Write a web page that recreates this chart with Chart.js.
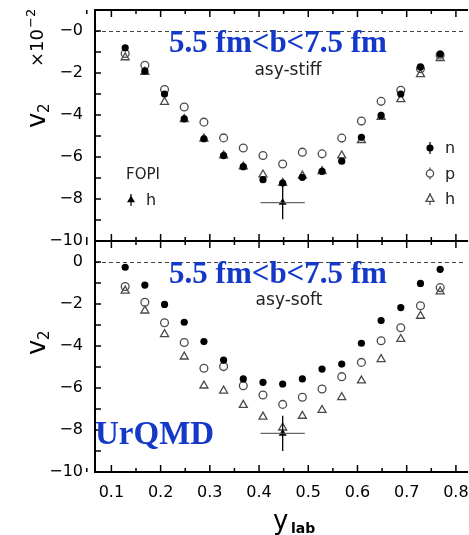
<!DOCTYPE html>
<html>
<head>
<meta charset="utf-8">
<script src="https://cdn.jsdelivr.net/npm/chart.js@4.4.1/dist/chart.umd.min.js"></script>
<style>
  html, body { margin: 0; padding: 0; background: #fff; overflow: hidden; }
  #v2Chart { display: block; }
</style>
</head>
<body>
<canvas id="v2Chart" width="469" height="535"></canvas>
<script>
// rapidity bins (y_lab)
const yLab = [0.128, 0.168, 0.208, 0.248, 0.288, 0.328, 0.368, 0.408, 0.448,
              0.488, 0.528, 0.568, 0.608, 0.648, 0.688, 0.728, 0.768];

// v2 (x10^-2), asy-stiff
const stiffN = [-0.80, -1.90, -3.00, -4.18, -5.13, -5.93, -6.46, -7.08, -7.24,
                -6.97, -6.68, -6.20, -5.06, -4.02, -3.00, -1.71, -1.10];
const stiffP = [-1.07, -1.63, -2.79, -3.62, -4.34, -5.09, -5.57, -5.93, -6.33,
                -5.77, -5.85, -5.10, -4.29, -3.35, -2.82, -1.80, -1.15];
const stiffH = [-1.26, -1.95, -3.38, -4.20, -5.13, -5.93, -6.46, -6.84, -7.24,
                -6.89, -6.68, -5.93, -5.20, -4.10, -3.25, -2.06, -1.30];

// v2 (x10^-2), asy-soft
const softN = [-0.25, -1.10, -2.02, -2.87, -3.79, -4.67, -5.57, -5.73, -5.81,
               -5.57, -5.10, -4.86, -3.87, -2.79, -2.17, -1.02, -0.35];
const softP = [-1.17, -1.92, -2.89, -3.83, -5.06, -4.98, -5.89, -6.33, -6.78,
               -6.44, -6.05, -5.46, -4.78, -3.75, -3.13, -2.08, -1.22];
const softH = [-1.37, -2.32, -3.44, -4.51, -5.89, -6.13, -6.81, -7.37, -7.89,
               -7.33, -7.05, -6.44, -5.65, -4.63, -3.67, -2.57, -1.41];

// FOPI h data point (same in both panels)
const fopiX = [0.448];
const fopiStiff = [-8.17];
const fopiSoft = [-8.16];
const fopiXErr = [0.045];
const fopiStiffErr = [0.80];
const fopiSoftErr = [0.84];

// axis ticks
const xTicks = [0.1, 0.2, 0.3, 0.4, 0.5, 0.6, 0.7, 0.8];
const xTickLabels = ['0.1', '0.2', '0.3', '0.4', '0.5', '0.6', '0.7', '0.8'];
const yTicks = [0, -2, -4, -6, -8, -10];
const yTopLabels = ['\u22120', '\u22122', '\u22124', '\u22126', '\u22128', '\u221210'];
const yBotLabels = ['0', '\u22122', '\u22124', '\u22126', '\u22128', '\u221210'];

const toPts = (xs, ys) => xs.map((x, i) => ({ x: x, y: ys[i] }));

const OPEN = 'rgba(0,0,0,0)';
const GREY = '#4a4a4a';
const BLUE = '#1438c8';

function series(label, xs, ys, axis, style) {
  return Object.assign({ label: label, data: toPts(xs, ys), yAxisID: axis, showLine: false }, style);
}
const nStyle = { pointStyle: 'circle', pointRadius: 3.6, backgroundColor: '#000', borderColor: '#000', borderWidth: 0 };
const pStyle = { pointStyle: 'circle', pointRadius: 3.9, backgroundColor: OPEN, borderColor: GREY, borderWidth: 1.3 };
const hStyle = { pointStyle: 'triangle', pointRadius: 4.6, backgroundColor: OPEN, borderColor: GREY, borderWidth: 1.3 };
const fStyle = { pointStyle: 'triangle', pointRadius: 4.6, backgroundColor: '#000', borderColor: '#000', borderWidth: 0 };

// рамка, тики внутрь, пунктир по нулю, ошибки и подписи
const framePlugin = {
  id: 'frame',
  beforeDatasetsDraw(chart) {
    const ctx = chart.ctx;
    const x = chart.scales.x;
    ctx.save();
    ctx.setLineDash([4, 3]);
    ctx.lineWidth = 1;
    ctx.strokeStyle = '#444';
    ['yTop', 'yBot'].forEach(id => {
      const py = Math.round(chart.scales[id].getPixelForValue(0)) + 0.5;
      ctx.beginPath();
      ctx.moveTo(x.left, py);
      ctx.lineTo(x.right, py);
      ctx.stroke();
    });
    ctx.restore();
  },
  afterDatasetsDraw(chart) {
    const ctx = chart.ctx;
    const x = chart.scales.x;
    // error bars of the FOPI point
    const errs = [['yTop', fopiStiff, fopiStiffErr], ['yBot', fopiSoft, fopiSoftErr]];
    ctx.save();
    errs.forEach(([id, vals, yErr]) => {
      const s = chart.scales[id];
      fopiX.forEach((fx, i) => {
        const px = x.getPixelForValue(fx);
        const py = s.getPixelForValue(vals[i]);
        ctx.lineWidth = 1.3;
        ctx.strokeStyle = '#666';
        ctx.beginPath();
        ctx.moveTo(x.getPixelForValue(fx - fopiXErr[i]), py);
        ctx.lineTo(x.getPixelForValue(fx + fopiXErr[i]), py);
        ctx.stroke();
        ctx.strokeStyle = '#000';
        ctx.beginPath();
        ctx.moveTo(px, s.getPixelForValue(vals[i] + yErr[i]));
        ctx.lineTo(px, s.getPixelForValue(vals[i] - yErr[i]));
        ctx.stroke();
      });
    });
    ctx.restore();
  },
  afterDraw(chart) {
    const ctx = chart.ctx;
    const x = chart.scales.x;
    const left = chart.chartArea.left;
    ctx.save();
    ctx.strokeStyle = '#000';
    ctx.lineCap = 'butt';

    // inward ticks
    ctx.lineWidth = 1.5;
    ['yTop', 'yBot'].forEach(id => {
      const s = chart.scales[id];
      for (let v = -10; v <= 0; v++) {
        const py = s.getPixelForValue(v);
        ctx.beginPath();
        ctx.moveTo(left, py);
        ctx.lineTo(left + 6, py);
        ctx.stroke();
      }
      [s.top, s.bottom].forEach((edge, k) => {
        const dir = k === 0 ? 1 : -1;
        for (let v = 0.05; v < x.max; v += 0.05) {
          const major = Math.abs(v * 10 - Math.round(v * 10)) < 1e-6;
          const px = x.getPixelForValue(v);
          ctx.beginPath();
          ctx.moveTo(px, edge);
          ctx.lineTo(px, edge + dir * (major ? 7 : 4));
          ctx.stroke();
        }
      });
    });

    // frame (right side is off the picture)
    ctx.lineWidth = 2;
    const top = chart.scales.yTop;
    const bot = chart.scales.yBot;
    ctx.beginPath();
    ctx.moveTo(x.right + 5, top.top);
    ctx.lineTo(left, top.top);
    ctx.lineTo(left, bot.bottom);
    ctx.lineTo(x.right + 5, bot.bottom);
    ctx.moveTo(left, top.bottom);
    ctx.lineTo(x.right + 5, top.bottom);
    ctx.stroke();

    // panel captions
    ctx.fillStyle = BLUE;
    ctx.font = 'bold 31px "Liberation Serif"';
    ctx.textAlign = 'center';
    ctx.textBaseline = 'alphabetic';
    ctx.fillText('5.5 fm<b<7.5 fm', 278, 52);
    ctx.fillText('5.5 fm<b<7.5 fm', 278, 283);
    ctx.textAlign = 'left';
    ctx.font = 'bold 33px "Liberation Serif"';
    ctx.fillText('UrQMD', 95, 444);

    ctx.fillStyle = '#222';
    ctx.textAlign = 'center';
    ctx.font = '17px "DejaVu Sans"';
    ctx.fillText('asy-stiff', 288, 75);
    ctx.fillText('asy-soft', 289, 305);
    ctx.textAlign = 'left';
    ctx.font = '15px "DejaVu Sans"';
    ctx.fillText('FOPI', 126, 179);

    // legends
    const mark = (cx, cy, kind) => {
      ctx.lineWidth = 1.2;
      ctx.strokeStyle = kind === 'f' || kind === 'n' ? '#000' : GREY;
      ctx.beginPath();
      ctx.moveTo(cx, cy - 6);
      ctx.lineTo(cx, cy + 6);
      ctx.stroke();
      ctx.beginPath();
      if (kind === 'n' || kind === 'p') {
        ctx.arc(cx, cy, 3.6, 0, Math.PI * 2);
      } else {
        ctx.moveTo(cx, cy - 4.6);
        ctx.lineTo(cx + 4, cy + 2.3);
        ctx.lineTo(cx - 4, cy + 2.3);
        ctx.closePath();
      }
      if (kind === 'n' || kind === 'f') {
        ctx.fillStyle = '#000';
        ctx.fill();
      } else {
        ctx.fillStyle = '#fff';
        ctx.fill();
        ctx.lineWidth = 1.3;
        ctx.stroke();
      }
    };
    ctx.font = '16px "DejaVu Sans"';
    mark(131, 200, 'f');
    ctx.fillStyle = '#222';
    ctx.fillText('h', 146, 205);
    [['n', 148], ['p', 173.5], ['h', 199]].forEach(([k, cy]) => {
      mark(430, cy, k);
      ctx.fillStyle = '#222';
      ctx.fillText(k, 445, cy + 5);
    });

    // axis titles
    ctx.fillStyle = '#000';
    [116, 343].forEach(cy => {
      ctx.save();
      ctx.translate(45, cy);
      ctx.rotate(-Math.PI / 2);
      ctx.textAlign = 'left';
      ctx.font = '26px "DejaVu Sans"';
      ctx.fillText('v', -12, 0);
      ctx.font = '15px "DejaVu Sans"';
      ctx.fillText('2', 3, 4);
      ctx.restore();
    });
    ctx.save();
    ctx.translate(43, 67);
    ctx.rotate(-Math.PI / 2);
    ctx.textAlign = 'left';
    ctx.font = '18px "DejaVu Sans"';
    ctx.fillText('\u00d710', 0, 0);
    const w = ctx.measureText('\u00d710').width;
    ctx.font = '13px "DejaVu Sans"';
    ctx.fillText('\u22122', w + 1, -8);
    ctx.restore();

    ctx.textAlign = 'left';
    ctx.font = '26px "DejaVu Sans"';
    ctx.fillText('y', 273, 529);
    ctx.font = 'bold 14px "DejaVu Sans"';
    ctx.fillText('lab', 291, 533);
    ctx.restore();
  }
};

const tickFont = { family: 'DejaVu Sans', size: 16 };

function yScale(labels, weight) {
  return {
    type: 'linear',
    position: 'left',
    stack: 'v',
    stackWeight: 1,
    weight: weight,
    min: -10,
    max: 1,
    afterBuildTicks: s => { s.ticks = yTicks.map(v => ({ value: v })); },
    afterFit: s => { s.width = 95; s.paddingTop = 0; s.paddingBottom = 0; },
    grid: { display: false, drawTicks: false },
    border: { display: false },
    ticks: {
      padding: 12,
      color: '#000',
      font: tickFont,
      autoSkip: false,
      callback: (v, i) => labels[i]
    }
  };
}

const chart = new Chart(document.getElementById('v2Chart').getContext('2d'), {
  type: 'scatter',
  data: {
    datasets: [
      series('n', yLab, stiffN, 'yTop', nStyle),
      series('p', yLab, stiffP, 'yTop', pStyle),
      series('h', yLab, stiffH, 'yTop', hStyle),
      series('FOPI h', fopiX, fopiStiff, 'yTop', fStyle),
      series('n', yLab, softN, 'yBot', nStyle),
      series('p', yLab, softP, 'yBot', pStyle),
      series('h', yLab, softH, 'yBot', hStyle),
      series('FOPI h', fopiX, fopiSoft, 'yBot', fStyle)
    ]
  },
  options: {
    responsive: false,
    animation: false,
    events: [],
    layout: { padding: { top: 10, left: 0, right: 0, bottom: 0 } },
    plugins: { legend: { display: false }, tooltip: { enabled: false } },
    scales: {
      x: {
        type: 'linear',
        position: 'bottom',
        min: 0.0667,
        max: 0.8146,
        afterBuildTicks: s => { s.ticks = xTicks.map(v => ({ value: v })); },
        afterFit: s => { s.height = 63; s.paddingLeft = 0; s.paddingRight = 0; },
        grid: { display: false, drawTicks: false },
        border: { display: false },
        ticks: {
          padding: 11,
          color: '#000',
          font: tickFont,
          maxRotation: 0,
          autoSkip: false,
          callback: (v, i) => xTickLabels[i]
        }
      },
      yTop: yScale(yTopLabels, 2),
      yBot: yScale(yBotLabels, 1)
    }
  },
  plugins: [framePlugin]
});
</script>
</body>
</html>
